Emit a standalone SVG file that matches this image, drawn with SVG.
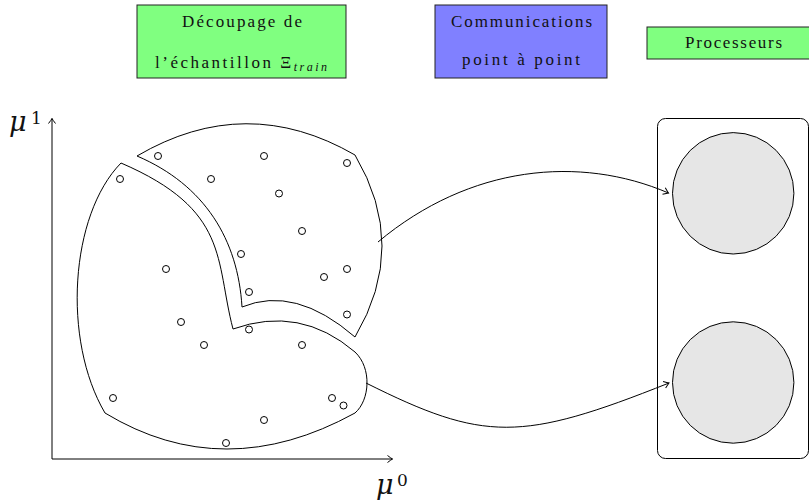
<svg xmlns="http://www.w3.org/2000/svg" width="809" height="501" viewBox="0 0 809 501">
<style>
.box{stroke:#222;stroke-width:1}
.lbl{font-family:"Liberation Serif","DejaVu Serif",serif;font-size:17px;fill:#111;text-anchor:middle}
.math{font-family:"DejaVu Serif","Liberation Serif",serif;fill:#111}
.region{fill:#fff;stroke:#000;stroke-width:1}
.pt{fill:#fff;stroke:#000;stroke-width:1}
.ax{stroke:#000;stroke-width:1;fill:none}
.conn{stroke:#000;stroke-width:1;fill:none}
.proc{fill:#e6e6e6;stroke:#000;stroke-width:1}
</style>
<defs>
<marker id="arr" markerWidth="10" markerHeight="10" refX="0" refY="0" viewBox="-6 -5 8 10" orient="auto" markerUnits="userSpaceOnUse">
<path d="M-5,-3.5 Q-1.5,-0.8 0,0 Q-1.5,0.8 -5,3.5" fill="none" stroke="#000" stroke-width="1"/>
</marker>
</defs>
<rect width="809" height="501" fill="#fff"/>

<g id="legend-decoupage">
<rect class="box" x="137" y="5" width="209" height="73" fill="#80ff80"/>
<text class="lbl" x="242" y="26.5" textLength="120" lengthAdjust="spacing">Découpage de</text>
<text class="lbl" x="241" y="68" textLength="172" lengthAdjust="spacing">l’échantillon Ξ<tspan font-style="italic" font-size="12" dy="3">train</tspan></text>
</g>
<g id="legend-communications">
<rect class="box" x="435" y="5" width="172" height="73" fill="#8080ff"/>
<text class="lbl" x="521.5" y="27" textLength="141" lengthAdjust="spacing">Communications</text>
<text class="lbl" x="521" y="65" textLength="118" lengthAdjust="spacing">point à point</text>
</g>
<g id="legend-processeurs">
<rect class="box" x="647" y="27" width="165" height="32" fill="#80ff80"/>
<text class="lbl" x="733.5" y="47.5" textLength="97" lengthAdjust="spacing">Processeurs</text>
</g>

<g id="axes">
<line class="ax" x1="52" y1="459" x2="52" y2="118.5" marker-end="url(#arr)"/>
<line class="ax" x1="52" y1="459" x2="392.5" y2="459" marker-end="url(#arr)"/>
<text class="math" x="9" y="131" font-size="27" font-style="italic">μ</text>
<text class="math" x="31" y="124" font-size="17" font-family="Liberation Serif, serif">1</text>
<text class="math" x="376" y="494" font-size="27" font-style="italic">μ</text>
<text class="math" x="397" y="486" font-size="17" font-family="Liberation Serif, serif">0</text>
</g>

<g id="region-lower">
<path class="region" d="M121,163 C230,210 215,260 233,329 Q300,305 355,352 C372,368 370,400 355,413 Q224,485 105,413 C62,340 70,215 121,163 Z"/>
<g class="pt">
<circle cx="120" cy="179" r="3.5"/>
<circle cx="166" cy="269" r="3.5"/>
<circle cx="181" cy="322" r="3.5"/>
<circle cx="249" cy="329.5" r="3.5"/>
<circle cx="204" cy="345" r="3.5"/>
<circle cx="302" cy="345" r="3.5"/>
<circle cx="113" cy="398" r="3.5"/>
<circle cx="332" cy="398" r="3.5"/>
<circle cx="343.5" cy="405.5" r="3.5"/>
<circle cx="264" cy="420" r="3.5"/>
<circle cx="226" cy="443" r="3.5"/>
</g>
</g>

<g id="region-upper">
<path class="region" d="M137,156 Q246,92 355,155 Q409,246 355,337 Q295,285 242,307 C238,240 205,185 137,156 Z"/>
<g class="pt">
<circle cx="158" cy="156" r="3.5"/>
<circle cx="264" cy="156" r="3.5"/>
<circle cx="347" cy="163" r="3.5"/>
<circle cx="211" cy="179" r="3.5"/>
<circle cx="279" cy="193.5" r="3.5"/>
<circle cx="302" cy="231" r="3.5"/>
<circle cx="241" cy="254" r="3.5"/>
<circle cx="347" cy="269" r="3.5"/>
<circle cx="324" cy="277" r="3.5"/>
<circle cx="249" cy="292" r="3.5"/>
<circle cx="347" cy="314.5" r="3.5"/>
</g>
</g>

<g id="processors">
<rect x="657.5" y="118.5" width="151" height="340" rx="8" fill="#fff" stroke="#000" stroke-width="1"/>
</g>
<g id="proc-1"><circle class="proc" cx="733.2" cy="193.3" r="60.7"/></g>
<g id="proc-2"><circle class="proc" cx="733.2" cy="382.5" r="60.7"/></g>

<g id="connectors">
<path class="conn" d="M378,242 C470,165 580,155 668.5,193" marker-end="url(#arr)"/>
<path class="conn" d="M366,383 C484,442 521,442 669,383" marker-end="url(#arr)"/>
</g>
</svg>
